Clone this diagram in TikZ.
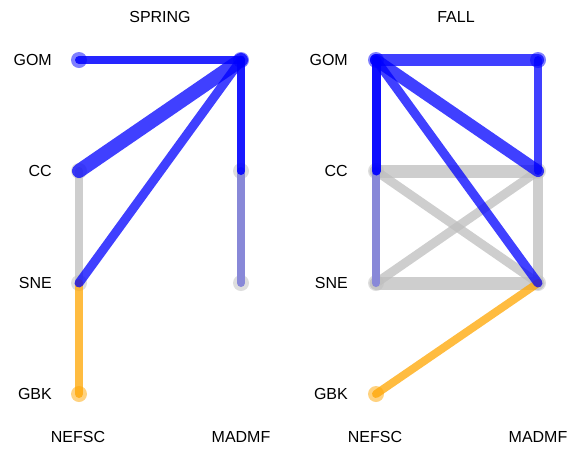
\documentclass[tikz,border=0pt]{standalone}
\usepackage{fontspec}
\setmainfont{Liberation Sans}
\definecolor{eblue}{RGB}{0,0,255}
\definecolor{egrey}{RGB}{190,190,190}
\definecolor{epurple}{RGB}{136,136,216}
\definecolor{eorange}{RGB}{255,165,0}
\begin{document}
\begin{tikzpicture}[x=1pt,y=-1pt,
  lbl/.style={font=\fontsize{16}{18}\selectfont, inner sep=0pt},
  rlbl/.style={lbl, anchor=east},
  pt/.style={circle, minimum size=16pt, inner sep=0pt, fill opacity=0.5},
  bpt/.style={pt, fill=eblue},
  gpt/.style={pt, fill=egrey},
  opt/.style={pt, fill=eorange},
  be/.style={draw=eblue, draw opacity=0.75, line cap=round},
  ge/.style={draw=egrey, draw opacity=0.75, line cap=round},
  pe/.style={draw=epurple, line cap=round},
  oe/.style={draw=eorange, draw opacity=0.75, line cap=round}]
\useasboundingbox (0,0) rectangle (569,448);
% titles
\node[lbl] (t1) at (160,16.5) {SPRING};
\node[lbl] (t2) at (456,16.5) {FALL};
% row labels
\node[rlbl] (sl1) at (52,60) {GOM};
\node[rlbl] (sl2) at (52,171) {CC};
\node[rlbl] (sl3) at (52,283) {SNE};
\node[rlbl] (sl4) at (52,394) {GBK};
\node[rlbl] (fl1) at (348,60) {GOM};
\node[rlbl] (fl2) at (348,171) {CC};
\node[rlbl] (fl3) at (348,283) {SNE};
\node[rlbl] (fl4) at (348,394) {GBK};
% column labels
\node[lbl] (sc1) at (78,437) {NEFSC};
\node[lbl] (sc2) at (241,437) {MADMF};
\node[lbl] (fc1) at (375,437) {NEFSC};
\node[lbl] (fc2) at (538,437) {MADMF};
% spring points
\node[bpt] (sGN) at (79,60) {};
\node[bpt] (sGM) at (241,60) {};
\node[gpt] (sCN) at (79,171) {};
\node[gpt] (sCM) at (241,171) {};
\node[gpt] (sSN) at (79,283) {};
\node[gpt] (sSM) at (241,283) {};
\node[opt] (sBN) at (79,394) {};
% fall points
\node[bpt] (fGN) at (376,60) {};
\node[bpt] (fGM) at (538,60) {};
\node[gpt] (fCN) at (376,171) {};
\node[gpt] (fCM) at (538,171) {};
\node[gpt] (fSN) at (376,283) {};
\node[gpt] (fSM) at (538,283) {};
\node[opt] (fBN) at (376,394) {};
% spring edges
\draw[ge, line width=8pt] (sCN.center) -- (sSN.center);
\draw[pe, line width=8pt] (sCM.center) -- (sSM.center);
\draw[oe, line width=8pt] (sSN.center) -- (sBN.center);
\draw[be, line width=8pt, draw opacity=0.85] (sGN.center) -- (sGM.center);
\draw[be, line width=8pt, draw opacity=0.9] (sGM.center) -- (sCM.center);
\draw[be, line width=14pt] (sCN.center) -- (sGM.center);
\draw[be, line width=9pt] (sSN.center) -- (sGM.center);
% fall edges
\draw[ge, line width=13pt] (fCN.center) -- (fCM.center);
\draw[ge, line width=13pt] (fSN.center) -- (fSM.center);
\draw[ge, line width=9pt] (fCN.center) -- (fSM.center);
\draw[ge, line width=9pt] (fCM.center) -- (fSN.center);
\draw[ge, line width=10pt] (fCM.center) -- (fSM.center);
\draw[pe, line width=8pt] (fCN.center) -- (fSN.center);
\draw[oe, line width=8pt] (fSM.center) -- (fBN.center);
\draw[be, line width=12pt] (fGN.center) -- (fGM.center);
\draw[be, line width=9pt, draw opacity=0.95] (fGN.center) -- (fCN.center);
\draw[be, line width=12pt] (fGN.center) -- (fCM.center);
\draw[be, line width=9pt] (fGN.center) -- (fSM.center);
\draw[be, line width=8pt] (fGM.center) -- (fCM.center);
\end{tikzpicture}
\end{document}
